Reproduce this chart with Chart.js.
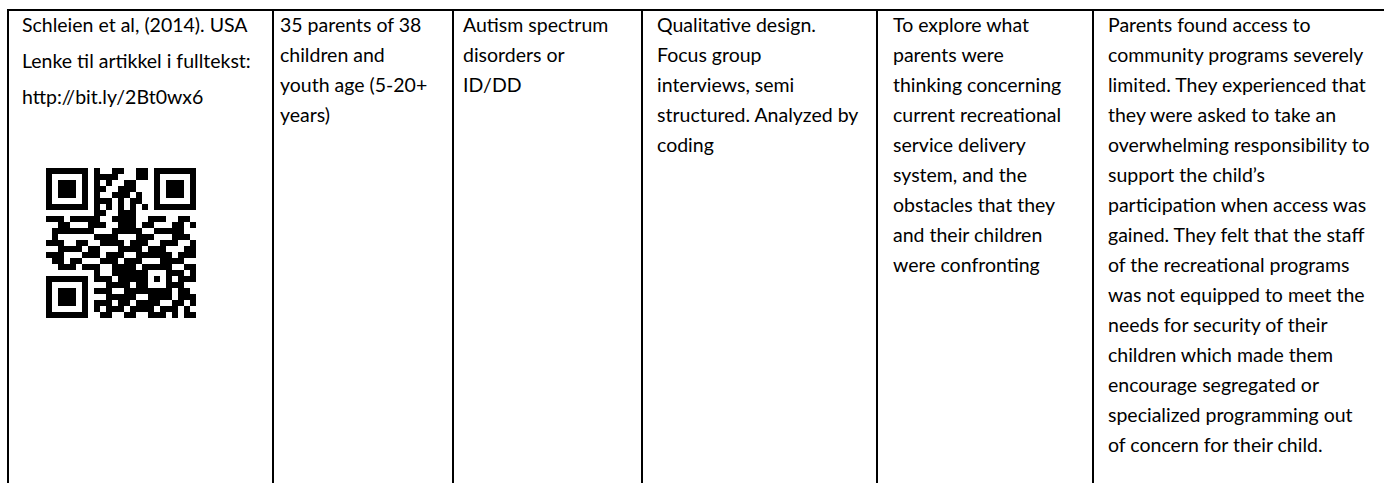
<!DOCTYPE html>
<html>
<head>
<meta charset="utf-8">
<script src="https://cdn.jsdelivr.net/npm/chart.js@4.4.1/dist/chart.umd.min.js"></script>
<style>
  html, body { margin: 0; padding: 0; background: #ffffff; }
  body { width: 1384px; height: 483px; overflow: hidden; position: relative;
         font-family: Lato, "Liberation Sans", sans-serif; color: #000; }
  .hline { position: absolute; background: #000; height: 2px; }
  .vline { position: absolute; background: #000; width: 2px; }
  .cell { position: absolute; font-size: 19.5px; line-height: 30px; white-space: nowrap; }
  .cell p { margin: 0; }
  #qrbox { position: absolute; left: 46px; top: 168px; width: 150px; height: 150px; }
</style>
</head>
<body>
<div class="hline" style="left:7px; top:9px; width:1377px;"></div>
<div class="vline" style="left:7px; top:9px; height:474px;"></div>
<div class="vline" style="left:272px; top:9px; height:474px;"></div>
<div class="vline" style="left:452px; top:9px; height:474px;"></div>
<div class="vline" style="left:641px; top:9px; height:474px;"></div>
<div class="vline" style="left:876px; top:9px; height:474px;"></div>
<div class="vline" style="left:1092px; top:9px; height:474px;"></div>

<div id="c1" class="cell" style="left:22px; top:10px;"></div>
<div id="c2" class="cell" style="left:280px; top:10px;"></div>
<div id="c3" class="cell" style="left:463px; top:10px;"></div>
<div id="c4" class="cell" style="left:657px; top:10px;"></div>
<div id="c5" class="cell" style="left:893px; top:10px;"></div>
<div id="c6" class="cell" style="left:1108px; top:10px;"></div>

<div id="qrbox"><canvas id="qr" width="150" height="150"></canvas></div>

<script>
// ---- table text (one array per column) ----
const col1Paragraphs = ["Schleien et al, (2014). USA", "Lenke til artikkel i fulltekst:", "http://bit.ly/2Bt0wx6"];
const col2Lines = ["35 parents of 38", "children and", "youth age (5-20+", "years)"];
const col3Lines = ["Autism spectrum", "disorders or", "ID/DD"];
const col4Lines = ["Qualitative design.", "Focus group", "interviews, semi", "structured. Analyzed by", "coding"];
const col5Lines = ["To explore what", "parents were", "thinking concerning", "current recreational",
  "service delivery", "system, and the", "obstacles that they", "and their children", "were confronting"];
const col6Lines = ["Parents found access to", "community programs severely", "limited. They experienced that",
  "they were asked to take an", "overwhelming responsibility to", "support the child\u2019s",
  "participation when access was", "gained. They felt that the staff", "of the recreational programs",
  "was not equipped to meet the", "needs for security of their", "children which made them",
  "encourage segregated or", "specialized programming out", "of concern for their child."];

// ---- QR code modules (rows, 1 = dark) ----
const qrRows = [
  "1111111010011001101111111",
  "1000001011110001101000001",
  "1011101010100110001011101",
  "1011101011001110001011101",
  "1011101010011101001011101",
  "1000001011101011001000001",
  "1111111010101010101111111",
  "0000000011001110000000000",
  "1110111110011110011100110",
  "0011000111001110110001101",
  "0111111100011111001111100",
  "0100000011110001110001110",
  "1110011001111011100111001",
  "0011110110001111011100011",
  "1110001110111001111110111",
  "0110110001110111000111100",
  "0011101110011110111110011",
  "0000000010011111100011101",
  "1111111011101111101010111",
  "1000001000111101100011100",
  "1011101011100111111110110",
  "1011101000111110011110111",
  "1011101011101101111001101",
  "1000001010111011110111010",
  "1111111001100110011101011"
];

function fillLines(id, lines) {
  document.getElementById(id).innerHTML = lines.map(t => '<div>' + t + '</div>').join('');
}
document.getElementById('c1').innerHTML = col1Paragraphs.map(t => '<p style="margin-bottom:6px">' + t + '</p>').join('');
fillLines('c2', col2Lines);
fillLines('c3', col3Lines);
fillLines('c4', col4Lines);
fillLines('c5', col5Lines);
fillLines('c6', col6Lines);

// QR drawn as scatter points through the chart scales
const qrPoints = [];
qrRows.forEach((row, r) => {
  for (let c = 0; c < row.length; c++) if (row[c] === '1') qrPoints.push({ x: c, y: r });
});
const N = qrRows.length;
new Chart(document.getElementById('qr'), {
  type: 'scatter',
  data: { datasets: [{ data: qrPoints, pointStyle: 'rect', pointRadius: 3 * Math.SQRT2,
    pointHoverRadius: 3 * Math.SQRT2, pointBorderWidth: 0, backgroundColor: '#000', borderColor: '#000' }] },
  options: {
    responsive: false, animation: false, events: [],
    layout: { padding: 0, autoPadding: false },
    plugins: { legend: { display: false }, tooltip: { enabled: false } },
    scales: {
      x: { display: false, min: -0.5, max: N - 0.5 },
      y: { display: false, min: -0.5, max: N - 0.5, reverse: true }
    }
  }
});
</script>
</body>
</html>
